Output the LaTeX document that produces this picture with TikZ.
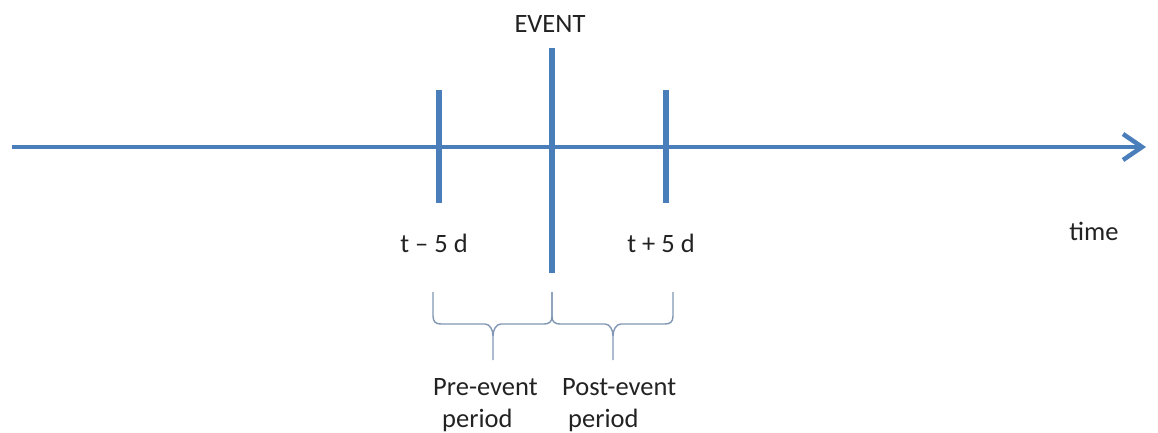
\documentclass[tikz,border=0pt]{standalone}
\usepackage{fontspec}
\setmainfont{Carlito}
\usetikzlibrary{arrows.meta}
\definecolor{axisblue}{HTML}{4A7EBB}
\definecolor{bracecol}{HTML}{8096B3}
\definecolor{txt}{HTML}{222222}
\tikzset{
  axisline/.style={draw=axisblue, line width=4.5pt},
  tickline/.style={draw=axisblue, line width=5.5pt},
  bracepath/.style={draw=bracecol, line width=1.4pt, line join=round},
  lbl/.style={text=txt, inner sep=0pt, font=\fontsize{26.5}{31}\selectfont},
}
\begin{document}
\begin{tikzpicture}[x=1pt,y=-1pt]
\useasboundingbox (0,0) rectangle (1158,432);
% axis
\coordinate (astart) at (12,147);
\coordinate (aend) at (1146,147);
\draw[axisline, -{Straight Barb[length=19pt,width=26pt,line width=4.5pt]}] (astart) -- (aend);
% ticks
\coordinate (l1) at (439,90);  \coordinate (l2) at (439,203);
\coordinate (e1) at (552,48);  \coordinate (e2) at (552,273);
\coordinate (r1) at (666,90);  \coordinate (r2) at (666,203);
\draw[tickline] (l1) -- (l2);
\draw[tickline] (e1) -- (e2);
\draw[tickline] (r1) -- (r2);
% labels
\node[lbl, anchor=base] (event) at (550,32) {EVENT};
\node[lbl, anchor=base] (tm) at (434,252) {t – 5 d};
\node[lbl, anchor=base] (tp) at (661,252) {t + 5 d};
\node[lbl, anchor=base] (time) at (1094,240) {time};
\node[lbl, anchor=base west] (pre1) at (433,395) {Pre-event};
\node[lbl, anchor=base west] (pre2) at (442,427) {period};
\node[lbl, anchor=base west] (post1) at (562,395) {Post-event};
\node[lbl, anchor=base west] (post2) at (568,427) {period};
% braces
\coordinate (b1) at (433,292);
\coordinate (b2) at (552,292);
\coordinate (b3) at (673,292);
\draw[bracepath] (b1) -- ++(0,24) .. controls +(0,6) and +(-5,0) .. ++(8,8)
  -- ++(44,0) .. controls +(5,0) and +(0,-6) .. ++(8,12) -- ++(0,24)
  (b2) -- ++(0,24) .. controls +(0,6) and +(5,0) .. ++(-8,8)
  -- ++(-43,0) .. controls +(-5,0) and +(0,-6) .. ++(-8,12);
\draw[bracepath] (b2) -- ++(0,24) .. controls +(0,6) and +(-5,0) .. ++(8,8)
  -- ++(45,0) .. controls +(5,0) and +(0,-6) .. ++(8,12) -- ++(0,24)
  (b3) -- ++(0,24) .. controls +(0,6) and +(5,0) .. ++(-8,8)
  -- ++(-44,0) .. controls +(-5,0) and +(0,-6) .. ++(-8,12);
\end{tikzpicture}
\end{document}
